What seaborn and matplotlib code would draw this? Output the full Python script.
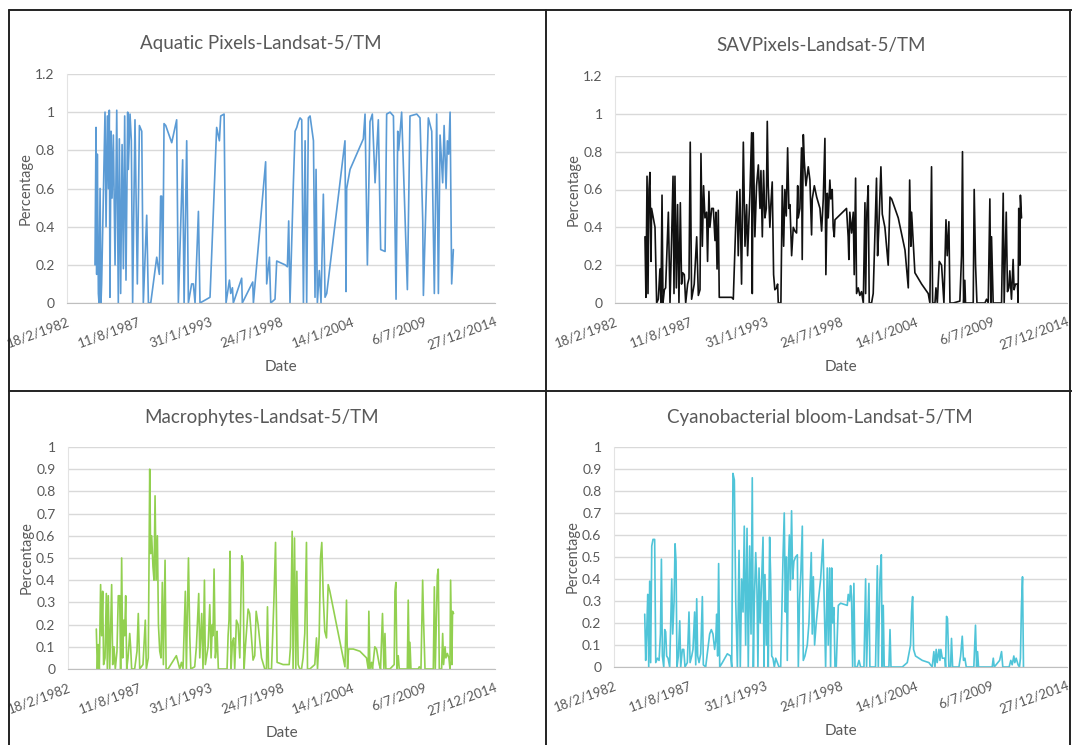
import numpy as np
import pandas as pd
import matplotlib
matplotlib.use("Agg")
import matplotlib.pyplot as plt
from matplotlib.lines import Line2D
import seaborn as sns

# ---- data (x in decimal years, y = fraction) ----
aquatic_year = [1984.28, 1984.36, 1984.41, 1984.46, 1984.54, 1984.59, 1984.67, 1984.74, 1984.79,
                1985.05, 1985.13, 1985.23, 1985.31, 1985.38, 1985.43, 1985.51, 1985.59, 1985.69,
                1985.82, 1985.95, 1986.07, 1986.15, 1986.25, 1986.36, 1986.46, 1986.56, 1986.66,
                1986.79, 1986.84, 1986.97, 1987.07, 1987.17, 1987.35, 1987.53, 1987.69, 1987.87,
                1987.99, 1988.25, 1988.38, 1988.45, 1988.56, 1989.02, 1989.22, 1989.32, 1989.40,
                1989.48, 1989.58, 1989.71, 1990.17, 1990.55, 1990.68, 1991.01, 1991.12, 1991.32,
                1991.45, 1991.70, 1991.83, 1991.96, 1992.22, 1992.34, 1993.11, 1993.62, 1993.83,
                1993.93, 1994.19, 1994.34, 1994.60, 1994.70, 1994.83, 1994.90, 1995.54, 1995.59,
                1996.39, 1996.44, 1997.38, 1997.46, 1997.67, 1997.77, 1998.10, 1998.23, 1998.87,
                1999.05, 1999.15, 1999.25, 1999.51, 1999.64, 1999.77, 1999.89, 2000.02, 2000.15,
                2000.28, 2000.41, 2000.53, 2000.66, 2000.79, 2001.05, 2001.17, 2001.25, 2001.35,
                2001.50, 2001.63, 2001.81, 2001.94, 2002.07, 2003.47, 2003.55, 2003.60, 2003.86,
                2004.50, 2004.88, 2005.01, 2005.19, 2005.39, 2005.57, 2005.78, 2006.03, 2006.21,
                2006.55, 2006.67, 2006.93, 2007.19, 2007.31, 2007.39, 2007.52, 2007.59, 2007.82,
                2008.26, 2008.46, 2008.98, 2009.23, 2009.44, 2009.49, 2009.87, 2010.13, 2010.33,
                2010.51, 2010.64, 2010.77, 2010.97, 2011.08, 2011.23, 2011.33, 2011.43, 2011.54,
                2011.66, 2011.79]
aquatic_val = [0.20, 0.92, 0.15, 0.78, 0.05, 0.00, 0.60, 0.00, 0.10,
               1.00, 0.40, 0.98, 0.60, 1.01, 0.03, 0.90, 0.55, 0.88,
               0.20, 1.01, 0.00, 0.86, 0.05, 0.83, 0.18, 0.98, 0.12,
               1.00, 0.70, 0.99, 0.85, 0.00, 0.96, 0.10, 0.93, 0.90,
               0.00, 0.46, 0.00, 0.00, 0.00, 0.24, 0.15, 0.56, 0.56,
               0.10, 0.94, 0.93, 0.84, 0.96, 0.00, 0.75, 0.00, 0.85,
               0.00, 0.10, 0.10, 0.00, 0.48, 0.00, 0.03, 0.92, 0.85,
               0.98, 0.99, 0.00, 0.12, 0.05, 0.08, 0.00, 0.13, 0.00,
               0.11, 0.00, 0.74, 0.10, 0.24, 0.00, 0.02, 0.22, 0.20,
               0.19, 0.43, 0.00, 0.63, 0.90, 0.92, 0.95, 0.97, 0.96,
               0.00, 0.85, 0.00, 0.97, 0.98, 0.85, 0.03, 0.70, 0.00,
               0.17, 0.00, 0.57, 0.03, 0.05, 0.85, 0.06, 0.60, 0.70,
               0.80, 0.86, 0.99, 0.20, 0.95, 0.99, 0.63, 0.96, 0.28,
               0.27, 0.99, 1.00, 0.98, 0.38, 0.02, 0.90, 0.80, 1.00,
               0.07, 0.98, 0.99, 0.97, 0.43, 0.04, 0.97, 0.90, 0.05,
               0.99, 0.05, 0.88, 0.63, 0.93, 0.60, 0.85, 0.78, 1.00,
               0.10, 0.28]

sav_year = [1984.31, 1984.38, 1984.46, 1984.53, 1984.60, 1984.67, 1984.75, 1984.79, 1985.04,
            1985.16, 1985.28, 1985.40, 1985.47, 1985.55, 1985.62, 1985.72, 1985.81, 1986.01,
            1986.13, 1986.25, 1986.35, 1986.42, 1986.49, 1986.59, 1986.68, 1986.78, 1986.88,
            1986.97, 1987.05, 1987.17, 1987.27, 1987.41, 1987.51, 1987.60, 1987.70, 1987.89,
            1988.07, 1988.19, 1988.31, 1988.38, 1988.48, 1988.57, 1988.67, 1988.79, 1988.86,
            1988.96, 1989.03, 1989.16, 1989.28, 1989.40, 1989.47, 1989.55, 1989.64, 1989.71,
            1990.61, 1990.73, 1990.90, 1991.00, 1991.09, 1991.21, 1991.33, 1991.46, 1991.58,
            1991.70, 1991.77, 1991.94, 1992.06, 1992.11, 1992.18, 1992.30, 1992.42, 1992.55,
            1992.67, 1992.74, 1992.84, 1992.93, 1993.03, 1993.13, 1993.20, 1993.27, 1993.39,
            1993.46, 1993.56, 1993.66, 1993.75, 1993.88, 1993.95, 1994.00, 1994.19, 1994.29,
            1994.39, 1994.48, 1994.58, 1994.68, 1994.77, 1994.85, 1994.97, 1995.09, 1995.21,
            1995.33, 1995.41, 1995.45, 1995.57, 1995.69, 1995.74, 1995.82, 1995.89, 1996.01,
            1996.18, 1996.30, 1996.42, 1996.47, 1996.62, 1996.79, 1997.03, 1997.15, 1997.27,
            1997.39, 1997.46, 1997.56, 1997.63, 1997.75, 1997.82, 1997.92, 1997.99, 1998.07,
            1998.12, 1998.96, 1999.08, 1999.13, 1999.20, 1999.33, 1999.45, 1999.52, 1999.62,
            1999.69, 1999.81, 1999.93, 2000.05, 2000.18, 2000.30, 2000.35, 2000.44, 2000.54,
            2000.61, 2000.78, 2000.90, 2001.14, 2001.22, 2001.31, 2001.46, 2001.56, 2001.75,
            2001.99, 2002.12, 2002.24, 2002.72, 2003.21, 2003.45, 2003.55, 2003.64, 2003.69,
            2003.93, 2004.42, 2004.90, 2005.02, 2005.14, 2005.22, 2005.39, 2005.46, 2005.56,
            2005.70, 2005.87, 2006.04, 2006.19, 2006.28, 2006.40, 2006.48, 2006.72, 2007.20,
            2007.32, 2007.39, 2007.47, 2007.56, 2007.61, 2008.17, 2008.24, 2008.34, 2008.44,
            2009.02, 2009.14, 2009.26, 2009.38, 2009.45, 2009.50, 2009.62, 2010.23, 2010.35,
            2010.42, 2010.57, 2010.66, 2010.76, 2010.83, 2010.95, 2011.07, 2011.14, 2011.24,
            2011.39, 2011.43, 2011.48, 2011.56, 2011.60, 2011.68]
sav_val = [0.35, 0.03, 0.67, 0.05, 0.60, 0.69, 0.22, 0.50, 0.40,
           0.00, 0.02, 0.18, 0.00, 0.57, 0.00, 0.07, 0.08, 0.48,
           0.00, 0.35, 0.67, 0.05, 0.67, 0.08, 0.52, 0.00, 0.53,
           0.10, 0.16, 0.15, 0.00, 0.10, 0.13, 0.85, 0.02, 0.10,
           0.35, 0.04, 0.07, 0.79, 0.30, 0.62, 0.45, 0.48, 0.22,
           0.59, 0.40, 0.50, 0.50, 0.33, 0.48, 0.18, 0.49, 0.03,
           0.03, 0.02, 0.40, 0.59, 0.25, 0.60, 0.10, 0.85, 0.30,
           0.52, 0.25, 0.58, 0.90, 0.05, 0.90, 0.35, 0.62, 0.73,
           0.50, 0.70, 0.35, 0.70, 0.45, 0.50, 0.96, 0.62, 0.40,
           0.52, 0.64, 0.15, 0.07, 0.08, 0.10, 0.00, 0.00, 0.62,
           0.30, 0.60, 0.46, 0.82, 0.50, 0.52, 0.25, 0.40, 0.38,
           0.37, 0.62, 0.45, 0.50, 0.82, 0.23, 0.89, 0.75, 0.62,
           0.72, 0.65, 0.36, 0.55, 0.62, 0.56, 0.50, 0.38, 0.55,
           0.87, 0.15, 0.58, 0.45, 0.65, 0.55, 0.60, 0.40, 0.35,
           0.44, 0.50, 0.35, 0.23, 0.48, 0.37, 0.48, 0.15, 0.66,
           0.05, 0.08, 0.04, 0.06, 0.00, 0.53, 0.05, 0.48, 0.62,
           0.00, 0.00, 0.05, 0.66, 0.25, 0.40, 0.72, 0.47, 0.40,
           0.20, 0.56, 0.55, 0.45, 0.28, 0.08, 0.65, 0.30, 0.48,
           0.16, 0.10, 0.05, 0.00, 0.72, 0.00, 0.00, 0.08, 0.00,
           0.22, 0.20, 0.00, 0.44, 0.25, 0.43, 0.00, 0.00, 0.01,
           0.25, 0.80, 0.00, 0.12, 0.00, 0.00, 0.60, 0.20, 0.00,
           0.00, 0.02, 0.00, 0.55, 0.00, 0.35, 0.00, 0.00, 0.58,
           0.00, 0.48, 0.06, 0.08, 0.17, 0.02, 0.23, 0.07, 0.10,
           0.10, 0.00, 0.50, 0.20, 0.57, 0.45]

macro_year = [1984.31, 1984.39, 1984.46, 1984.54, 1984.64, 1984.72, 1984.80, 1984.87, 1984.98,
              1985.08, 1985.16, 1985.23, 1985.34, 1985.41, 1985.49, 1985.57, 1985.67, 1985.77,
              1985.90, 1986.00, 1986.11, 1986.18, 1986.26, 1986.34, 1986.42, 1986.49, 1986.57,
              1986.65, 1986.75, 1986.88, 1986.95, 1987.03, 1987.26, 1987.44, 1987.54, 1987.65,
              1987.90, 1988.08, 1988.16, 1988.31, 1988.42, 1988.49, 1988.57, 1988.67, 1988.75,
              1988.83, 1988.91, 1989.01, 1989.09, 1989.19, 1989.29, 1989.39, 1989.47, 1989.60,
              1989.68, 1989.83, 1990.47, 1990.73, 1990.86, 1990.98, 1991.16, 1991.24, 1991.40,
              1991.50, 1991.58, 1991.88, 1992.01, 1992.19, 1992.27, 1992.42, 1992.52, 1992.63,
              1992.70, 1992.91, 1993.04, 1993.14, 1993.24, 1993.29, 1993.37, 1993.47, 1993.55,
              1993.60, 1993.70, 1994.06, 1994.37, 1994.45, 1994.52, 1994.60, 1994.68, 1994.78,
              1994.88, 1994.96, 1995.09, 1995.22, 1995.35, 1995.50, 1995.60, 1995.68, 1995.78,
              1995.99, 1996.11, 1996.24, 1996.37, 1996.50, 1996.61, 1996.76, 1997.02, 1997.27,
              1997.40, 1997.48, 1997.56, 1997.79, 1997.97, 1998.10, 1998.22, 1998.68, 1999.15,
              1999.25, 1999.38, 1999.45, 1999.56, 1999.66, 1999.74, 1999.84, 1999.97, 2000.10,
              2000.22, 2000.35, 2000.48, 2000.56, 2000.74, 2001.12, 2001.25, 2001.33, 2001.46,
              2001.56, 2001.66, 2001.77, 2001.89, 2002.02, 2002.15, 2002.28, 2002.79, 2003.31,
              2003.44, 2003.56, 2003.64, 2003.72, 2004.08, 2004.59, 2005.10, 2005.23, 2005.28,
              2005.36, 2005.49, 2005.56, 2005.74, 2005.87, 2006.08, 2006.18, 2006.33, 2006.44,
              2006.52, 2006.59, 2006.90, 2007.23, 2007.29, 2007.36, 2007.44, 2007.54, 2007.62,
              2007.93, 2008.24, 2008.31, 2008.39, 2008.44, 2008.52, 2009.08, 2009.16, 2009.29,
              2009.42, 2009.49, 2009.60, 2010.24, 2010.32, 2010.39, 2010.55, 2010.62, 2010.70,
              2010.88, 2010.96, 2011.03, 2011.14, 2011.21, 2011.32, 2011.44, 2011.52, 2011.57,
              2011.67, 2011.72, 2011.80]
macro_val = [0.18, 0.00, 0.11, 0.00, 0.38, 0.15, 0.35, 0.02, 0.05,
             0.34, 0.00, 0.33, 0.00, 0.18, 0.38, 0.02, 0.10, 0.00,
             0.08, 0.33, 0.33, 0.00, 0.50, 0.05, 0.22, 0.15, 0.33,
             0.00, 0.05, 0.16, 0.10, 0.00, 0.00, 0.08, 0.25, 0.00,
             0.02, 0.22, 0.00, 0.05, 0.90, 0.52, 0.60, 0.46, 0.40,
             0.78, 0.40, 0.60, 0.20, 0.08, 0.05, 0.39, 0.02, 0.49,
             0.00, 0.00, 0.06, 0.00, 0.03, 0.00, 0.35, 0.00, 0.50,
             0.15, 0.00, 0.01, 0.10, 0.34, 0.05, 0.25, 0.00, 0.40,
             0.02, 0.10, 0.29, 0.05, 0.20, 0.15, 0.45, 0.05, 0.10,
             0.17, 0.00, 0.00, 0.00, 0.15, 0.22, 0.53, 0.00, 0.12,
             0.14, 0.00, 0.22, 0.20, 0.05, 0.51, 0.48, 0.00, 0.10,
             0.27, 0.25, 0.15, 0.04, 0.06, 0.26, 0.20, 0.05, 0.00,
             0.00, 0.28, 0.00, 0.00, 0.30, 0.57, 0.03, 0.02, 0.02,
             0.10, 0.62, 0.00, 0.59, 0.00, 0.44, 0.02, 0.00, 0.00,
             0.05, 0.16, 0.57, 0.00, 0.00, 0.02, 0.14, 0.00, 0.15,
             0.50, 0.57, 0.33, 0.17, 0.14, 0.38, 0.35, 0.20, 0.05,
             0.01, 0.31, 0.00, 0.09, 0.09, 0.08, 0.05, 0.00, 0.26,
             0.00, 0.03, 0.00, 0.10, 0.09, 0.02, 0.00, 0.25, 0.00,
             0.16, 0.00, 0.00, 0.02, 0.35, 0.39, 0.00, 0.06, 0.00,
             0.00, 0.00, 0.31, 0.00, 0.12, 0.00, 0.00, 0.01, 0.00,
             0.40, 0.22, 0.00, 0.00, 0.37, 0.00, 0.42, 0.45, 0.00,
             0.00, 0.16, 0.02, 0.10, 0.05, 0.07, 0.05, 0.00, 0.40,
             0.02, 0.26, 0.25]

cyano_year = [1984.36, 1984.43, 1984.50, 1984.58, 1984.65, 1984.72, 1984.79, 1984.87, 1984.96,
              1985.08, 1985.16, 1985.28, 1985.40, 1985.50, 1985.57, 1985.64, 1985.74, 1985.81,
              1985.88, 1985.95, 1986.05, 1986.17, 1986.32, 1986.39, 1986.49, 1986.56, 1986.63,
              1986.70, 1986.80, 1986.90, 1986.97, 1987.09, 1987.19, 1987.28, 1987.45, 1987.57,
              1987.65, 1987.77, 1987.86, 1987.98, 1988.06, 1988.13, 1988.20, 1988.30, 1988.42,
              1988.54, 1988.61, 1988.78, 1989.07, 1989.19, 1989.31, 1989.43, 1989.51, 1989.58,
              1989.65, 1989.72, 1989.80, 1989.99, 1990.35, 1990.59, 1990.67, 1990.76, 1990.86,
              1990.96, 1991.08, 1991.20, 1991.29, 1991.39, 1991.49, 1991.58, 1991.68, 1991.78,
              1991.87, 1991.97, 1992.07, 1992.16, 1992.24, 1992.31, 1992.41, 1992.50, 1992.57,
              1992.65, 1992.74, 1992.84, 1992.94, 1993.01, 1993.08, 1993.18, 1993.25, 1993.32,
              1993.42, 1993.49, 1993.57, 1993.66, 1993.76, 1993.86, 1993.98, 1994.10, 1994.22,
              1994.29, 1994.39, 1994.48, 1994.56, 1994.63, 1994.70, 1994.77, 1994.85, 1994.92,
              1995.01, 1995.09, 1995.18, 1995.30, 1995.43, 1995.50, 1995.59, 1995.69, 1995.79,
              1995.86, 1995.98, 1996.15, 1996.27, 1996.44, 1996.51, 1996.59, 1996.68, 1996.80,
              1996.95, 1997.12, 1997.29, 1997.36, 1997.48, 1997.60, 1997.67, 1997.77, 1997.84,
              1997.92, 1997.99, 1998.08, 1998.16, 1998.25, 1998.40, 1998.57, 1999.05, 1999.12,
              1999.22, 1999.29, 1999.36, 1999.44, 1999.53, 1999.61, 1999.77, 1999.90, 2000.02,
              2000.26, 2000.38, 2000.45, 2000.62, 2000.69, 2000.86, 2001.10, 2001.23, 2001.30,
              2001.42, 2001.52, 2001.59, 2001.66, 2001.73, 2002.07, 2002.15, 2002.22, 2003.04,
              2003.40, 2003.64, 2003.71, 2003.79, 2003.86, 2004.00, 2004.49, 2004.97, 2005.21,
              2005.33, 2005.41, 2005.50, 2005.57, 2005.70, 2005.77, 2005.84, 2005.94, 2006.13,
              2006.18, 2006.25, 2006.32, 2006.42, 2006.54, 2006.61, 2006.69, 2007.15, 2007.27,
              2007.39, 2007.48, 2007.58, 2007.68, 2008.23, 2008.35, 2008.43, 2008.50, 2008.57,
              2009.56, 2009.64, 2009.71, 2010.10, 2010.24, 2010.33, 2010.79, 2010.91, 2011.01,
              2011.13, 2011.20, 2011.30, 2011.44, 2011.54, 2011.61, 2011.68, 2011.76, 2011.83]
cyano_val = [0.24, 0.03, 0.15, 0.33, 0.00, 0.39, 0.02, 0.55, 0.58,
             0.58, 0.02, 0.04, 0.03, 0.15, 0.49, 0.05, 0.00, 0.17,
             0.16, 0.05, 0.04, 0.00, 0.40, 0.15, 0.30, 0.56, 0.48,
             0.00, 0.05, 0.21, 0.00, 0.08, 0.08, 0.00, 0.02, 0.25,
             0.02, 0.05, 0.08, 0.25, 0.01, 0.31, 0.05, 0.02, 0.06,
             0.32, 0.01, 0.00, 0.15, 0.17, 0.15, 0.08, 0.12, 0.24,
             0.05, 0.47, 0.00, 0.02, 0.06, 0.05, 0.00, 0.88, 0.85,
             0.30, 0.00, 0.53, 0.00, 0.40, 0.25, 0.64, 0.10, 0.63,
             0.00, 0.55, 0.15, 0.86, 0.00, 0.30, 0.52, 0.35, 0.00,
             0.45, 0.20, 0.40, 0.59, 0.00, 0.42, 0.10, 0.30, 0.00,
             0.59, 0.42, 0.05, 0.04, 0.00, 0.04, 0.02, 0.00, 0.00,
             0.20, 0.50, 0.70, 0.25, 0.50, 0.03, 0.45, 0.60, 0.35,
             0.71, 0.40, 0.48, 0.50, 0.51, 0.00, 0.30, 0.44, 0.64,
             0.03, 0.05, 0.10, 0.20, 0.52, 0.15, 0.41, 0.10, 0.20,
             0.30, 0.40, 0.58, 0.35, 0.00, 0.45, 0.10, 0.45, 0.00,
             0.45, 0.20, 0.27, 0.00, 0.00, 0.28, 0.29, 0.28, 0.33,
             0.30, 0.37, 0.32, 0.00, 0.38, 0.00, 0.00, 0.03, 0.00,
             0.00, 0.40, 0.00, 0.38, 0.00, 0.00, 0.00, 0.46, 0.00,
             0.40, 0.51, 0.00, 0.28, 0.00, 0.00, 0.17, 0.00, 0.00,
             0.02, 0.10, 0.25, 0.32, 0.08, 0.05, 0.03, 0.02, 0.00,
             0.07, 0.00, 0.08, 0.02, 0.08, 0.03, 0.08, 0.04, 0.04,
             0.00, 0.23, 0.22, 0.00, 0.00, 0.13, 0.00, 0.00, 0.05,
             0.14, 0.03, 0.04, 0.00, 0.00, 0.19, 0.00, 0.07, 0.00,
             0.00, 0.04, 0.00, 0.03, 0.07, 0.00, 0.00, 0.03, 0.01,
             0.05, 0.02, 0.04, 0.01, 0.00, 0.04, 0.27, 0.41, 0.00]

titles = ["Aquatic Pixels-Landsat-5/TM", "SAVPixels-Landsat-5/TM",
          "Macrophytes-Landsat-5/TM", "Cyanobacterial bloom-Landsat-5/TM"]
colors = ["#5b9bd5", "#111111", "#92d050", "#4fc4d8"]
tick_dates = [pd.Timestamp("1982-02-18") + pd.Timedelta(days=2000 * k) for k in range(7)]
tick_labels = [f"{d.day}/{d.month}/{d.year}" for d in tick_dates]


def to_dates(years):
    return pd.Timestamp("1970-01-01") + pd.to_timedelta((np.asarray(years) - 1970.0) * 365.2425, unit="D")


sns.set_style("white")
plt.rcParams["font.family"] = ["Lato", "DejaVu Sans"]
gray = "#595959"

W, H = 1072, 745
fig = plt.figure(figsize=(W / 100, H / 100), dpi=100)


def add_ax(left, right, top, bottom):
    return fig.add_axes([left / W, 1 - bottom / H, (right - left) / W, (bottom - top) / H])


# axes box (px) , y max, y step, title centre (px)
panels = [
    (aquatic_year, aquatic_val, (67, 495, 74, 303), 1.2, 0.2, (261, 44)),
    (sav_year, sav_val, (615, 1067, 76, 303), 1.2, 0.2, (821, 46)),
    (macro_year, macro_val, (68, 495, 447, 669), 1.0, 0.1, (262, 417)),
    (cyano_year, cyano_val, (614, 1067, 447, 667), 1.0, 0.1, (820, 417)),
]

for i, (yrs, vals, box, ymax, ystep, tpos) in enumerate(panels):
    ax = add_ax(*box)
    df = pd.DataFrame({"Date": to_dates(yrs), "Percentage": vals})
    sns.lineplot(data=df, x="Date", y="Percentage", ax=ax, color=colors[i],
                 linewidth=1.2, estimator=None)
    ax.set_xlim(tick_dates[0], tick_dates[-1])
    ax.set_ylim(0, ymax)
    yt = np.round(np.arange(0, ymax + 1e-9, ystep), 2)
    ax.set_yticks(yt)
    ax.set_yticklabels([f"{v:g}" for v in yt], fontsize=10, color=gray)
    ax.set_xticks(tick_dates)
    ax.set_xticklabels(tick_labels, rotation=20, ha="right", rotation_mode="anchor",
                       fontsize=9.5, color=gray)
    ax.tick_params(axis="both", length=0)
    ax.tick_params(axis="y", pad=9)
    ax.tick_params(axis="x", pad=9)
    ax.grid(axis="y", color="#d9d9d9", linewidth=1)
    ax.set_axisbelow(True)
    for s in ["top", "right"]:
        ax.spines[s].set_visible(False)
    ax.spines["left"].set_color("#e3e3e3")
    ax.spines["bottom"].set_color("#bfbfbf")
    fig.text(tpos[0] / W, 1 - tpos[1] / H, titles[i], fontsize=13.5, color=gray,
             ha="center", va="center")
    ax.set_xlabel("Date", fontsize=11, color=gray, labelpad=6)
    ax.set_ylabel("Percentage", fontsize=10.5, color=gray, labelpad=2)

# panel frame lines
frame = dict(color="#222222", linewidth=1.4, transform=fig.transFigure)
fig.add_artist(Line2D([9 / W, 9 / W], [0, 1 - 10 / H], **frame))
fig.add_artist(Line2D([9 / W, 1], [1 - 10 / H, 1 - 10 / H], **frame))
fig.add_artist(Line2D([546 / W, 546 / W], [0, 1 - 10 / H], **frame))
fig.add_artist(Line2D([9 / W, 1], [1 - 391 / H, 1 - 391 / H], **frame))
fig.add_artist(Line2D([1070 / W, 1070 / W], [0, 1 - 10 / H], **frame))

fig.savefig("out.png", dpi=100, facecolor="white")
